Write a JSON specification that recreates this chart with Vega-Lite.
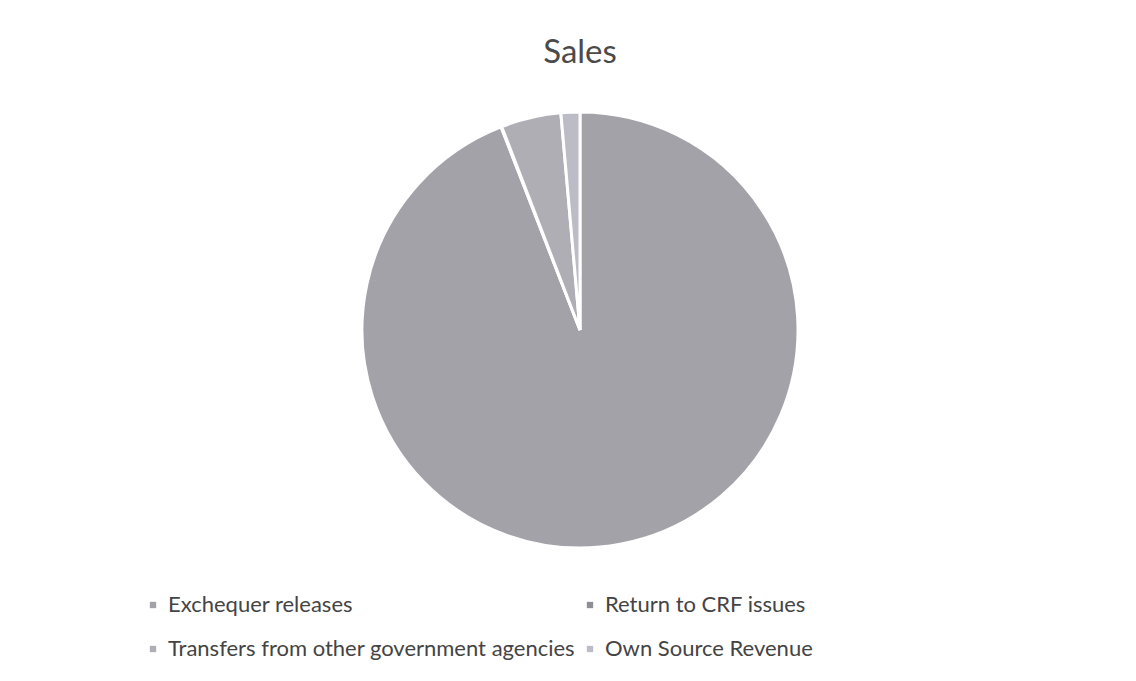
{
  "$schema": "https://vega.github.io/schema/vega-lite/v6.json",
  "width": 1112,
  "height": 500,
  "autosize": {"type": "none"},
  "padding": {"left": 24, "top": 80, "right": 0, "bottom": 101},
  "background": "white",
  "title": {"text": "Sales", "font": "Lato", "fontSize": 33, "fontWeight": "normal", "color": "#4a4a4a", "anchor": "middle", "offset": 10},
  "data": {"values": [
    {"category": "\u2002Exchequer releases", "value": 94.1, "idx": 1},
    {"category": "Return to CRF issues", "value": 0.05, "idx": 2},
    {"category": "Transfers from other government agencies", "value": 4.45, "idx": 3},
    {"category": "Own Source Revenue", "value": 1.4, "idx": 4}
  ]},
  "mark": {"type": "arc", "outerRadius": 218, "stroke": "white", "strokeWidth": 3},
  "encoding": {
    "theta": {"field": "value", "type": "quantitative", "stack": true},
    "order": {"field": "idx", "type": "quantitative"},
    "color": {
      "field": "category", "type": "nominal",
      "sort": ["\u2002Exchequer releases", "Return to CRF issues", "Transfers from other government agencies", "Own Source Revenue"],
      "scale": {"domain": ["\u2002Exchequer releases", "Return to CRF issues", "Transfers from other government agencies", "Own Source Revenue"], "range": ["#a2a2a8", "#8e8e94", "#aeaeb4", "#bcbcc6"]},
      "legend": {"title": null, "orient": "none", "legendX": 118, "legendY": 514, "columns": 2, "direction": "horizontal", "symbolType": "square", "symbolSize": 40, "symbolStrokeWidth": 0, "labelFont": "Lato", "labelFontSize": 22, "labelColor": "#444444", "labelLimit": 700, "labelOffset": 4, "columnPadding": 3, "rowPadding": 22}
    }
  }
}
